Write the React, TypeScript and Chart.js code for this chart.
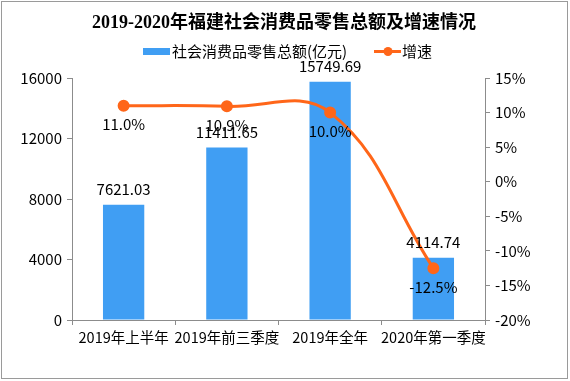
import React, { useEffect, useRef } from 'react';
import { Chart, registerables } from 'chart.js';

Chart.register(...registerables);

const titleText = '2019-2020年福建社会消费品零售总额及增速情况';
const categories = ['2019年上半年', '2019年前三季度', '2019年全年', '2020年第一季度'];
const salesValues = [7621.03, 11411.65, 15749.69, 4114.74];
const growthValues = [11.0, 10.9, 10.0, -12.5];
const seriesNames = ['社会消费品零售总额(亿元)', '增速'];
const leftAxis = { min: 0, max: 16000, step: 4000 };
const rightAxis = { min: -20, max: 15, step: 5 };

const BAR_COLOR = '#409EF3';
const LINE_COLOR = '#FF6619';
const AXIS_COLOR = '#8C8C8C';
const FONT_FAMILY = '"Noto Sans CJK SC", sans-serif';
const TITLE_FAMILY = '"Liberation Serif", "Noto Sans CJK SC", serif';

const decorPlugin = {
  id: 'decor',
  afterDatasetsDraw(chart: any) {
    const ctx = chart.ctx;
    ctx.save();
    ctx.fillStyle = '#000';
    ctx.font = `15px ${FONT_FAMILY}`;
    ctx.textAlign = 'center';
    ctx.textBaseline = 'middle';
    const barMeta = chart.getDatasetMeta(0);
    barMeta.data.forEach((el: any, i: number) => {
      ctx.fillText(salesValues[i].toFixed(2), el.x, el.y - 15);
    });
    const lineMeta = chart.getDatasetMeta(1);
    lineMeta.data.forEach((el: any, i: number) => {
      ctx.fillText(growthValues[i].toFixed(1) + '%', el.x, el.y + 19);
    });
    ctx.restore();
  },
  afterDraw(chart: any) {
    const ctx = chart.ctx;
    ctx.save();
    // frame
    ctx.strokeStyle = '#9A9A9A';
    ctx.lineWidth = 1;
    ctx.strokeRect(1.5, 1.5, 566, 377);
    // title
    ctx.fillStyle = '#000';
    ctx.font = `bold 18px ${TITLE_FAMILY}`;
    ctx.textAlign = 'center';
    ctx.textBaseline = 'middle';
    ctx.fillText(titleText, 284, 23);
    // legend
    ctx.font = `15px ${FONT_FAMILY}`;
    ctx.textAlign = 'left';
    ctx.fillStyle = BAR_COLOR;
    ctx.fillRect(143, 48, 27, 7);
    ctx.fillStyle = '#000';
    ctx.fillText(seriesNames[0], 172, 51.5);
    ctx.strokeStyle = LINE_COLOR;
    ctx.lineWidth = 3;
    ctx.beginPath();
    ctx.moveTo(374, 51.5);
    ctx.lineTo(401, 51.5);
    ctx.stroke();
    ctx.fillStyle = LINE_COLOR;
    ctx.beginPath();
    ctx.arc(388, 51.5, 4.5, 0, Math.PI * 2);
    ctx.fill();
    ctx.fillStyle = '#000';
    ctx.fillText(seriesNames[1], 402, 51.5);
    ctx.restore();
  },
};

export default function App() {
  const ref = useRef<HTMLCanvasElement | null>(null);

  useEffect(() => {
    if (!ref.current) return;
    const tickFont = { family: FONT_FAMILY, size: 15 };
    const chart = new Chart(ref.current, {
      type: 'bar',
      data: {
        labels: categories,
        datasets: [
          {
            type: 'bar',
            label: seriesNames[0],
            data: salesValues,
            backgroundColor: BAR_COLOR,
            yAxisID: 'y',
            barPercentage: 0.4,
            categoryPercentage: 1,
            order: 2,
          },
          {
            type: 'line',
            label: seriesNames[1],
            data: growthValues,
            borderColor: LINE_COLOR,
            backgroundColor: LINE_COLOR,
            pointBackgroundColor: LINE_COLOR,
            pointBorderColor: LINE_COLOR,
            borderWidth: 3,
            pointRadius: 4.5,
            tension: 0.4,
            yAxisID: 'y1',
            order: 1,
          },
        ] as any,
      },
      options: {
        animation: false,
        responsive: false,
        layout: { padding: { top: 78, left: 0, right: 0, bottom: 0 } },
        plugins: {
          legend: { display: false },
          title: { display: false },
          tooltip: { enabled: false },
        },
        scales: {
          x: {
            grid: { display: true, drawOnChartArea: false, offset: true, tickLength: 5, color: AXIS_COLOR },
            border: { color: AXIS_COLOR },
            ticks: { color: '#000', font: { family: FONT_FAMILY, size: 14.5 }, padding: 4, maxRotation: 0, autoSkip: false },
            afterFit: (s: any) => { s.height = 61; },
          },
          y: {
            position: 'left',
            min: leftAxis.min,
            max: leftAxis.max,
            grid: { drawOnChartArea: false, tickLength: 5, color: AXIS_COLOR },
            border: { color: AXIS_COLOR },
            ticks: { stepSize: leftAxis.step, color: '#000', font: tickFont, padding: 5, callback: (v: any) => String(v) },
            afterFit: (s: any) => { s.width = 72; },
          },
          y1: {
            position: 'right',
            min: rightAxis.min,
            max: rightAxis.max,
            grid: { drawOnChartArea: false, tickLength: 5, color: AXIS_COLOR },
            border: { color: AXIS_COLOR },
            ticks: {
              stepSize: rightAxis.step,
              color: '#000',
              font: tickFont,
              padding: 5,
              callback: (v: any) => `${v}%`,
            },
            afterFit: (s: any) => { s.width = 85; },
          },
        },
      } as any,
      plugins: [decorPlugin],
    });
    return () => chart.destroy();
  }, []);

  return (
    <div style={{ position: 'absolute', left: 0, top: 0, width: 570, height: 381, background: '#fff' }}>
      <canvas ref={ref} width={570} height={381} style={{ display: 'block' }} />
    </div>
  );
}
